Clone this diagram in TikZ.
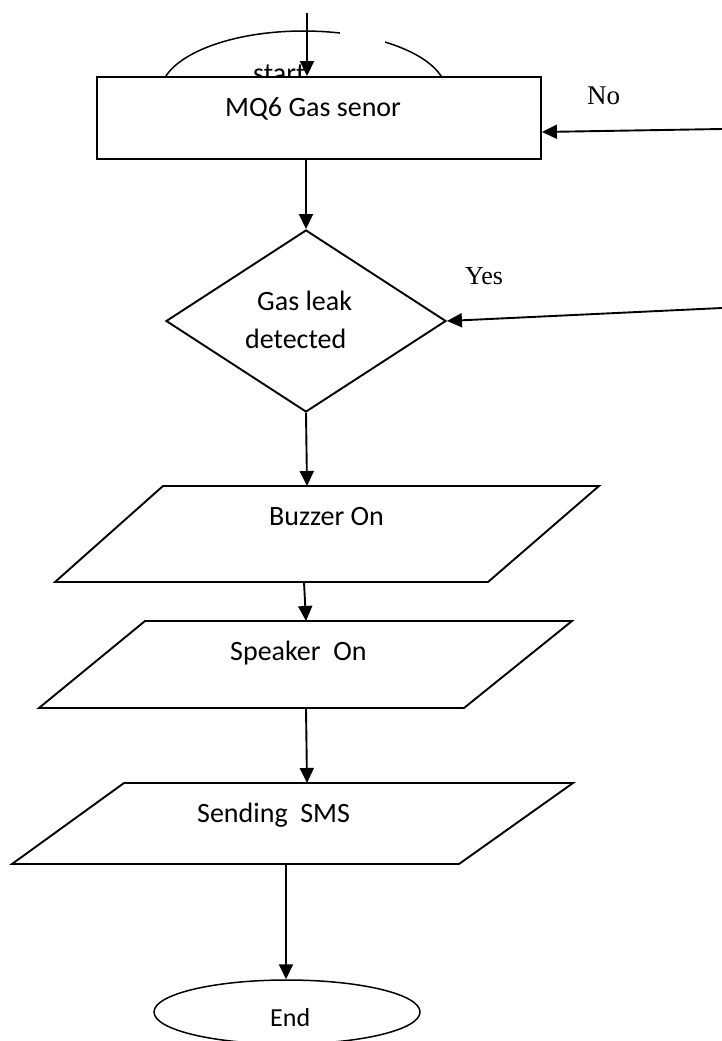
\documentclass[tikz,border=0pt]{standalone}
\usepackage{fontspec}
\setmainfont{Carlito}
\newfontfamily\tnr{Liberation Serif}
\usetikzlibrary{arrows.meta,shapes.geometric}
\begin{document}
\begin{tikzpicture}[x=1pt,y=-1pt,
  line/.style={line width=1.9pt},
  arr/.style={line width=1.9pt,-{Triangle[length=15pt,width=14pt]}},
  lbl/.style={anchor=base west,inner sep=0pt,font=\fontsize{28}{34}\selectfont},
  serifl/.style={anchor=base west,inner sep=0pt,font=\tnr\fontsize{27}{32}\selectfont},
  shapebox/.style={draw,line width=1.9pt,fill=white,inner sep=0pt}]
\useasboundingbox (0,0) rectangle (722,1041);
% start ellipse (mostly hidden)
\node[ellipse,draw,line width=1.5pt,minimum width=286pt,minimum height=124pt,inner sep=0pt] (start) at (303.5,93) {};
\node[lbl] (starttxt) at (253,82) {start};
\fill[white] (340,22) rectangle (385,48);
% sensor box
\node[shapebox,minimum width=444pt,minimum height=82pt] (sensor) at (319,118) {};
\node[lbl] (sensortxt) at (225,116) {MQ6 Gas senor};
\coordinate (topin) at (307,13);
\draw[arr] (topin) -- (topin |- sensor.north);
% No
\node[serifl] (no) at (587,104) {No};
\coordinate (noin) at (722,129);
\draw[arr] (noin) -- ([yshift=-14pt]sensor.east);
% diamond
\node[diamond,shapebox,minimum width=280pt,minimum height=182pt,aspect=1.54] (dec) at (306,321) {};
\node[lbl] (dec1) at (257,310) {Gas leak};
\node[lbl] (dec2) at (245,348) {detected};
\draw[arr] (sensor.south -| dec.north) -- (dec.north);
% Yes
\node[serifl,font=\tnr\fontsize{26}{31}\selectfont] (yes) at (465,284) {Yes};
\coordinate (yesin) at (722,308);
\draw[arr] (yesin) -- (dec.east);
% parallelograms
\draw[line] (163,486) -- (599,486) -- (488,582) -- (55,582) -- cycle;
\coordinate (p1n) at (307,486);
\coordinate (p1s) at (304,582);
\node[lbl] (buzz) at (269,525) {Buzzer On};
\draw[line] (145,621) -- (572,621) -- (464,708) -- (39,708) -- cycle;
\coordinate (p2n) at (306,621);
\coordinate (p2s) at (306,708);
\node[lbl] (spk) at (230,660) {Speaker~~On};
\draw[line] (124,783) -- (573,783) -- (459,864) -- (12,864) -- cycle;
\coordinate (p3n) at (307,783);
\coordinate (p3s) at (286,864);
\node[lbl] (sms) at (197,822) {Sending~~SMS};
% end
\node[ellipse,draw,line width=1.5pt,minimum width=266pt,minimum height=64pt,inner sep=0pt] (endn) at (287,1012) {};
\node[lbl,font=\fontsize{26}{31}\selectfont] (endtxt) at (270,1026) {End};
% connectors
\draw[arr] (dec.south) -- (p1n);
\draw[arr] (p1s) -- (p2n);
\draw[arr] (p2s) -- (p3n);
\draw[arr] (p3s) -- (p3s |- endn.north);
\end{tikzpicture}
\end{document}
